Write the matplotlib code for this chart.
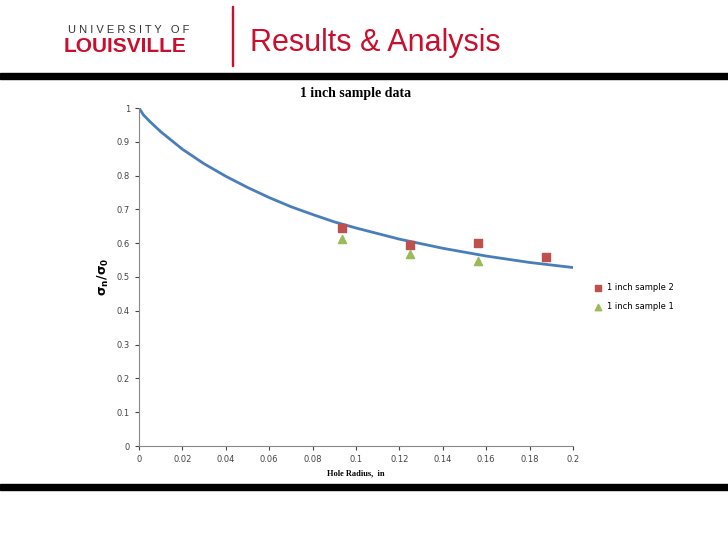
import matplotlib
matplotlib.use("Agg")
import matplotlib.pyplot as plt
from matplotlib.patches import Rectangle

curve_x = [0, 0.002, 0.005, 0.01, 0.02, 0.03, 0.04, 0.05, 0.06, 0.07, 0.08, 0.09, 0.1, 0.12, 0.14, 0.16, 0.18, 0.2]
curve_y = [1.0, 0.98, 0.96, 0.93, 0.878, 0.835, 0.798, 0.765, 0.735, 0.708, 0.685, 0.663, 0.645, 0.612, 0.585, 0.562, 0.543, 0.528]
s2_x = [0.09375, 0.125, 0.15625, 0.1875]
s2_y = [0.645, 0.595, 0.600, 0.560]
s1_x = [0.09375, 0.125, 0.15625]
s1_y = [0.613, 0.568, 0.547]
xticks = [0, 0.02, 0.04, 0.06, 0.08, 0.1, 0.12, 0.14, 0.16, 0.18, 0.2]
yticks = [0, 0.1, 0.2, 0.3, 0.4, 0.5, 0.6, 0.7, 0.8, 0.9, 1]

fig = plt.figure(figsize=(7.28, 5.46), dpi=100)
# header
fig.add_artist(Rectangle((0, 1-79/546), 1, 6/546, transform=fig.transFigure, color='black'))
fig.add_artist(Rectangle((0, 1-490/546), 1, 6/546, transform=fig.transFigure, color='black'))
fig.add_artist(Rectangle((232/728, 1-66/546), 1.2/728, 60/546, transform=fig.transFigure, color='#c8102e'))
fig.text(68/728, 1-30/546, "U N I V E R S I T Y   O F", fontsize=8, color='#333333', va='center', family='Liberation Sans')
fig.text(64/728, 1-47/546, "LOUISVILLE", fontsize=15, fontweight='bold', color='#c8102e', va='center', family='Liberation Sans')
fig.text(250/728, 1-43/546, "Results & Analysis", fontsize=22, color='#c8102e', va='center', family='Liberation Sans')

ax = fig.add_axes([139/728, 100/546, 434/728, 338/546])
ax.plot(curve_x, curve_y, color='#4a7ebb', lw=2)
ax.scatter(s2_x, s2_y, marker='s', s=30, color='#c0504d', label='1 inch sample 2', zorder=3)
ax.scatter(s1_x, s1_y, marker='^', s=34, color='#9bbb59', label='1 inch sample 1', zorder=3)
ax.set_xlim(0, 0.2); ax.set_ylim(0, 1)
ax.set_xticks(xticks); ax.set_yticks(yticks)
ax.set_xticklabels([f"{t:g}" for t in xticks]); ax.set_yticklabels([f"{t:g}" for t in yticks])
ax.tick_params(labelsize=6, colors='#444444', length=3)
for s in ['top', 'right']:
    ax.spines[s].set_visible(False)
for s in ['left', 'bottom']:
    ax.spines[s].set_color('#888888')
ax.set_title("1 inch sample data", fontsize=10, fontweight='bold', family='Liberation Serif', pad=8)
ax.set_xlabel("Hole Radius,  in", fontsize=6, fontweight='bold', family='Liberation Serif')
ax.set_ylabel(r"$\mathbf{\sigma_n/\sigma_0}$", fontsize=9)
ax.legend(loc='center left', bbox_to_anchor=(1.02, 0.44), frameon=False, fontsize=6,
          handletextpad=0.1, markerscale=0.8, labelspacing=1.2)
fig.savefig("out.png", dpi=100)
